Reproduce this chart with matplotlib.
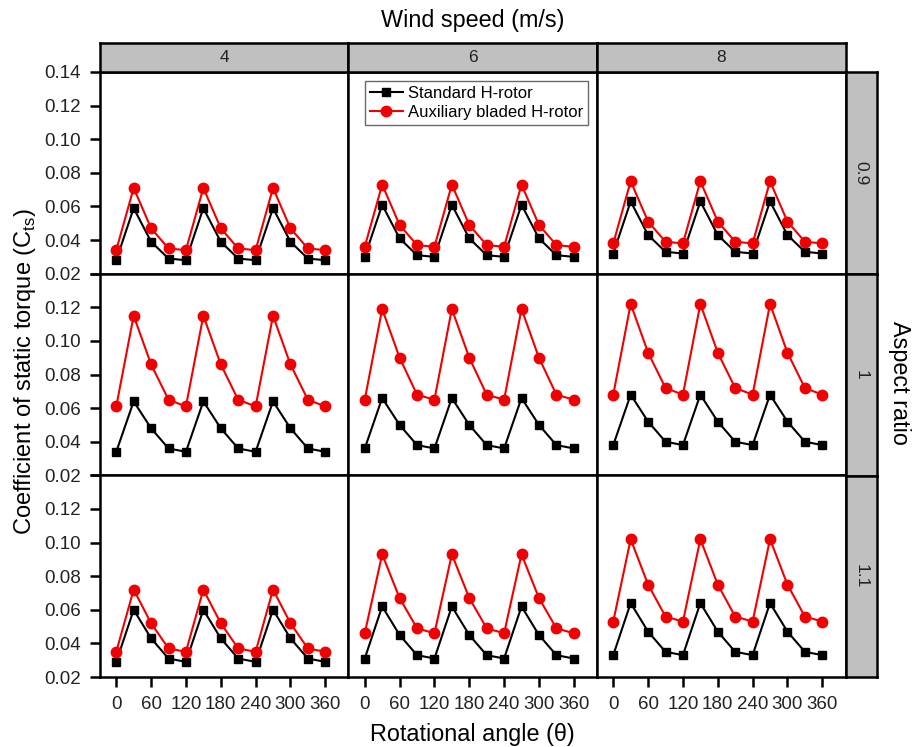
import matplotlib
matplotlib.use("Agg")
import matplotlib.pyplot as plt

plt.rcParams['font.family'] = ['Liberation Sans', 'DejaVu Sans']
plt.rcParams['mathtext.fontset'] = 'custom'
plt.rcParams['mathtext.rm'] = 'Liberation Sans'

angles = [0, 30, 60, 90, 120, 150, 180, 210, 240, 270, 300, 330, 360]
wind_speeds = ["4", "6", "8"]
aspect_ratios = ["0.9", "1", "1.1"]

# Standard H-rotor, rows = aspect ratio, cols = wind speed
std_09_4 = [0.028, 0.059, 0.039, 0.029, 0.028, 0.059, 0.039, 0.029, 0.028, 0.059, 0.039, 0.029, 0.028]
std_09_6 = [0.030, 0.061, 0.041, 0.031, 0.030, 0.061, 0.041, 0.031, 0.030, 0.061, 0.041, 0.031, 0.030]
std_09_8 = [0.032, 0.063, 0.043, 0.033, 0.032, 0.063, 0.043, 0.033, 0.032, 0.063, 0.043, 0.033, 0.032]
std_10_4 = [0.034, 0.064, 0.048, 0.036, 0.034, 0.064, 0.048, 0.036, 0.034, 0.064, 0.048, 0.036, 0.034]
std_10_6 = [0.036, 0.066, 0.050, 0.038, 0.036, 0.066, 0.050, 0.038, 0.036, 0.066, 0.050, 0.038, 0.036]
std_10_8 = [0.038, 0.068, 0.052, 0.040, 0.038, 0.068, 0.052, 0.040, 0.038, 0.068, 0.052, 0.040, 0.038]
std_11_4 = [0.029, 0.060, 0.043, 0.031, 0.029, 0.060, 0.043, 0.031, 0.029, 0.060, 0.043, 0.031, 0.029]
std_11_6 = [0.031, 0.062, 0.045, 0.033, 0.031, 0.062, 0.045, 0.033, 0.031, 0.062, 0.045, 0.033, 0.031]
std_11_8 = [0.033, 0.064, 0.047, 0.035, 0.033, 0.064, 0.047, 0.035, 0.033, 0.064, 0.047, 0.035, 0.033]

# Auxiliary bladed H-rotor
aux_09_4 = [0.034, 0.071, 0.047, 0.035, 0.034, 0.071, 0.047, 0.035, 0.034, 0.071, 0.047, 0.035, 0.034]
aux_09_6 = [0.036, 0.073, 0.049, 0.037, 0.036, 0.073, 0.049, 0.037, 0.036, 0.073, 0.049, 0.037, 0.036]
aux_09_8 = [0.038, 0.075, 0.051, 0.039, 0.038, 0.075, 0.051, 0.039, 0.038, 0.075, 0.051, 0.039, 0.038]
aux_10_4 = [0.061, 0.115, 0.086, 0.065, 0.061, 0.115, 0.086, 0.065, 0.061, 0.115, 0.086, 0.065, 0.061]
aux_10_6 = [0.065, 0.119, 0.090, 0.068, 0.065, 0.119, 0.090, 0.068, 0.065, 0.119, 0.090, 0.068, 0.065]
aux_10_8 = [0.068, 0.122, 0.093, 0.072, 0.068, 0.122, 0.093, 0.072, 0.068, 0.122, 0.093, 0.072, 0.068]
aux_11_4 = [0.035, 0.072, 0.052, 0.037, 0.035, 0.072, 0.052, 0.037, 0.035, 0.072, 0.052, 0.037, 0.035]
aux_11_6 = [0.046, 0.093, 0.067, 0.049, 0.046, 0.093, 0.067, 0.049, 0.046, 0.093, 0.067, 0.049, 0.046]
aux_11_8 = [0.053, 0.102, 0.075, 0.056, 0.053, 0.102, 0.075, 0.056, 0.053, 0.102, 0.075, 0.056, 0.053]

std = [[std_09_4, std_09_6, std_09_8],
       [std_10_4, std_10_6, std_10_8],
       [std_11_4, std_11_6, std_11_8]]
aux = [[aux_09_4, aux_09_6, aux_09_8],
       [aux_10_4, aux_10_6, aux_10_8],
       [aux_11_4, aux_11_6, aux_11_8]]

yticks = [0.02, 0.04, 0.06, 0.08, 0.10, 0.12, 0.14]
xticks = [0, 60, 120, 180, 240, 300, 360]

W, H = 919, 747
fig = plt.figure(figsize=(W / 100, H / 100), dpi=100)

L, R, T, B = 100, 845.5, 72, 677
gs = fig.add_gridspec(3, 3, left=L / W, right=R / W, top=1 - T / H, bottom=1 - B / H,
                      wspace=0, hspace=0)

lw_frame = 1.8
tick_color = '#222222'
for i in range(3):
    for j in range(3):
        ax = fig.add_subplot(gs[i, j])
        ax.plot(angles, std[i][j], color='black', marker='s', markersize=6.3,
                linewidth=1.5, label='Standard H-rotor', zorder=3)
        ax.plot(angles, aux[i][j], color='#f00000', marker='o', markersize=7.5,
                linewidth=1.5, label='Auxiliary bladed H-rotor', zorder=3)
        ax.set_xlim(-28, 400)
        ax.set_ylim(0.02, 0.14)
        for s in ax.spines.values():
            s.set_linewidth(lw_frame)
        ax.set_xticks(xticks)
        ax.set_yticks(yticks)
        ax.tick_params(direction='out', length=7, width=1.8, labelsize=13.5,
                       labelcolor=tick_color)
        ax.tick_params(axis='y', pad=7)
        ax.tick_params(axis='x', pad=7)
        if j == 0:
            labels = ['%.2f' % v for v in yticks]
            if i > 0:
                labels[-1] = ''
            ax.set_yticklabels(labels)
        else:
            ax.tick_params(axis='y', left=False, labelleft=False)
        if i == 2:
            ax.set_xticklabels([str(v) for v in xticks])
        else:
            ax.tick_params(axis='x', bottom=False, labelbottom=False)
        if i == 0 and j == 1:
            leg = ax.legend(loc='upper left', bbox_to_anchor=(0.065, 0.955), fontsize=12,
                            frameon=True, fancybox=False, edgecolor='#444444',
                            handlelength=2.0, handletextpad=0.3, borderpad=0.3,
                            labelspacing=0.25, borderaxespad=0)
            leg.get_frame().set_linewidth(1.0)

# top strips
col_edges = [L, 348, 597, R]
for j in range(3):
    sax = fig.add_axes([col_edges[j] / W, 1 - T / H, (col_edges[j + 1] - col_edges[j]) / W, 29 / H])
    sax.set_facecolor('#c0c0c0')
    sax.set_xticks([]); sax.set_yticks([])
    for s in sax.spines.values():
        s.set_linewidth(lw_frame)
    sax.text(0.5, 0.5, wind_speeds[j], ha='center', va='center', fontsize=12.5,
             color=tick_color, transform=sax.transAxes)

# right strips
row_edges = [T, 274, 476, B]
for i in range(3):
    sax = fig.add_axes([R / W, 1 - row_edges[i + 1] / H, 31 / W, (row_edges[i + 1] - row_edges[i]) / H])
    sax.set_facecolor('#c0c0c0')
    sax.set_xticks([]); sax.set_yticks([])
    for s in sax.spines.values():
        s.set_linewidth(lw_frame)
    sax.text(0.5, 0.5, aspect_ratios[i], ha='center', va='center', fontsize=12.5,
             color=tick_color, rotation=-90, transform=sax.transAxes)

cx = (L + R) / 2 / W
fig.text(cx, 1 - 21 / H, 'Wind speed (m/s)', ha='center', va='center', fontsize=16.8)
fig.text(cx, 1 - 735 / H, 'Rotational angle (\u03b8)', ha='center', va='center', fontsize=16.8)
fig.text(25 / W, 1 - 372 / H, r'Coefficient of static torque (C$_{\mathrm{ts}}$)', ha='center',
         va='center', fontsize=17, rotation=90)
fig.text(899 / W, 1 - 383 / H, 'Aspect ratio', ha='center', va='center', fontsize=16.8, rotation=-90)

fig.savefig('out.png', dpi=100)
